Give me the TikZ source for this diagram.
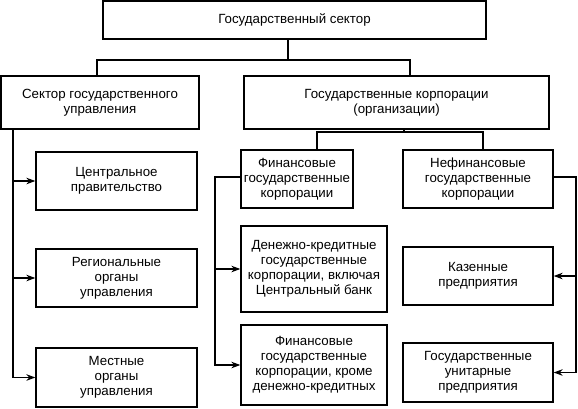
\documentclass[tikz,border=0pt]{standalone}
\usepackage{fontspec}
\setmainfont{Liberation Sans}
\usetikzlibrary{arrows.meta}
\begin{document}
\begin{tikzpicture}[x=1pt,y=-1pt,
  box/.style={draw,line width=1.3pt,align=center,inner sep=0pt,
    font=\fontsize{13.3}{15}\selectfont},
  link/.style={line width=1.3pt},
  arr/.style={line width=1.3pt,-{Stealth[length=9pt,width=6.5pt]}}]
\useasboundingbox (0,0) rectangle (578,408);
\node[box,minimum width=383pt,minimum height=38pt] (top) at (294.5,20) {Государственный сектор};
\node[box,minimum width=198pt,minimum height=53pt] (L1) at (100,102.5) {Сектор государственного\\управления};
\node[box,minimum width=305pt,minimum height=53pt] (R1) at (396.5,102.5) {Государственные корпорации\\(организации)};
\node[box,minimum width=112pt,minimum height=58pt] (fin) at (297,179) {Финансовые\\государственные\\корпорации};
\node[box,minimum width=150pt,minimum height=58pt] (nefin) at (478,179) {Нефинансовые\\государственные\\корпорации};
\node[box,minimum width=161pt,minimum height=58pt] (c1) at (116.5,181) {Центральное\\правительство};
\node[box,minimum width=161pt,minimum height=58pt] (c2) at (116.5,278) {Региональные\\органы\\управления};
\node[box,minimum width=161pt,minimum height=59pt] (c3) at (116.5,377.5) {Местные\\органы\\управления};
\node[box,minimum width=146pt,minimum height=86pt] (d1) at (314,269) {Денежно-кредитные\\государственные\\корпорации, включая\\Центральный банк};
\node[box,minimum width=146pt,minimum height=80pt] (d2) at (314,365) {Финансовые\\государственные\\корпорации, кроме\\денежно-кредитных};
\node[box,minimum width=150pt,minimum height=58pt] (n1) at (478,276) {Казенные\\предприятия};
\node[box,minimum width=150pt,minimum height=59pt] (n2) at (478,372.5) {Государственные\\унитарные\\предприятия};
% top level
\coordinate (j1) at (288,60);
\coordinate (bl) at (97,60);
\coordinate (br) at (410,60);
\draw[link] (top.south -| j1) -- (j1);
\draw[link] (L1.north -| bl) -- (bl) -- (br) -- (R1.north -| br);
% corporations
\coordinate (j2) at (404,132);
\coordinate (cl) at (317,132);
\coordinate (cr) at (483,132);
\draw[link] (R1.south -| j2) -- (j2);
\draw[link] (fin.north -| cl) -- (cl) -- (cr) -- (nefin.north -| cr);
% left branch
\coordinate (lv) at (13,129);
\draw[arr] (L1.south -| lv) |- (c3.west);
\draw[arr] (lv |- c1.west) -- (c1.west);
\draw[arr] (lv |- c2.west) -- (c2.west);
% financial branch
\coordinate (fv) at (215,177);
\draw[arr] (fin.west |- fv) -- (fv) |- (d2.west);
\draw[arr] (fv |- d1.west) -- (d1.west);
% non-financial branch
\coordinate (nv) at (576,177);
\draw[arr] (nefin.east |- nv) -- (nv) |- (n2.east);
\draw[arr] (nv |- n1.east) -- (n1.east);
\end{tikzpicture}
\end{document}
